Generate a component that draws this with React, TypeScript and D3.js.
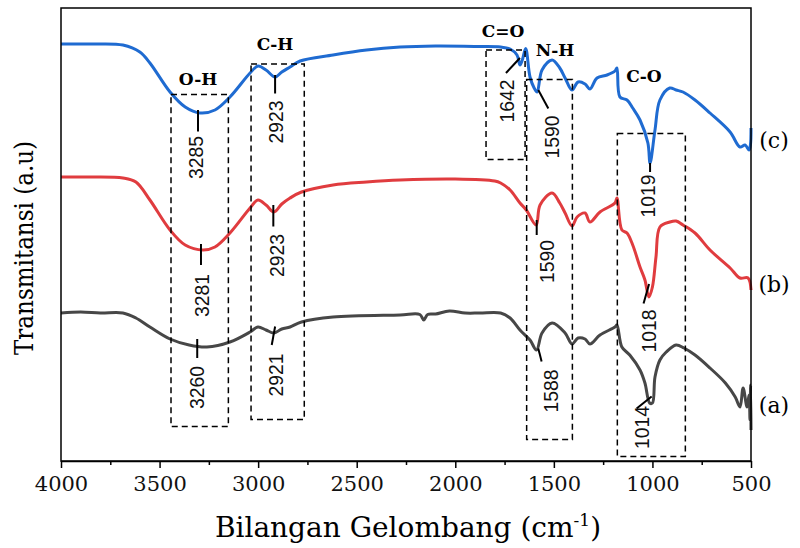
import React, { useRef, useEffect } from 'react'
import * as d3 from 'd3'

// spectrum (c) - blue
const wnC = [4000, 3850, 3686, 3600, 3549, 3447, 3370, 3295, 3219, 3143, 3041, 3001, 2960, 2914, 2880, 2838, 2787, 2620, 2450, 2280, 2100, 1875, 1770, 1722, 1687, 1672, 1660, 1643, 1621, 1600, 1585, 1560, 1509, 1470, 1443, 1408, 1377, 1342, 1317, 1281, 1230, 1190, 1180, 1165, 1129, 1100, 1063, 1023, 1012, 987, 962, 912, 880, 845, 784, 708, 606, 556, 530, 510, 503, 500]
const tC = [83.4, 83.4, 83.2, 81.8, 79.6, 73.8, 70.8, 69.6, 70.2, 72.8, 77.6, 79.0, 78.2, 76.8, 77.8, 78.8, 80.0, 81.2, 82.2, 82.8, 83.0, 82.9, 82.8, 82.4, 81.2, 79.2, 80.2, 82.5, 76.8, 74.6, 73.8, 78.2, 80.2, 78.6, 76.6, 74.2, 75.8, 75.4, 74.4, 76.6, 77.2, 78.0, 78.6, 72.8, 72.2, 70.6, 68.2, 63.6, 59.6, 66.2, 72.2, 74.6, 74.2, 73.8, 72.2, 69.6, 65.8, 62.8, 63.2, 62.2, 63.2, 66.6]

// spectrum (b) - red
const wnB = [4000, 3850, 3686, 3620, 3549, 3447, 3370, 3280, 3219, 3143, 3041, 3001, 2960, 2920, 2880, 2838, 2780, 2620, 2450, 2280, 2000, 1800, 1770, 1722, 1672, 1640, 1590, 1570, 1509, 1470, 1443, 1408, 1382, 1342, 1317, 1266, 1190, 1180, 1155, 1129, 1100, 1063, 1038, 1018, 1000, 982, 962, 912, 880, 845, 784, 708, 606, 556, 515, 500]
const tB = [56.8, 56.8, 56.6, 55.8, 52.2, 46.2, 43.2, 42.2, 42.8, 45.6, 50.6, 52.2, 51.2, 49.8, 51.4, 52.6, 53.8, 55.2, 55.8, 56.2, 56.4, 56.0, 55.6, 54.2, 51.6, 50.2, 47.2, 51.2, 53.6, 51.6, 49.6, 47.0, 48.8, 49.6, 47.8, 49.8, 51.6, 52.6, 46.2, 45.6, 43.2, 38.8, 36.2, 32.8, 34.8, 40.8, 46.8, 47.8, 48.0, 47.2, 45.6, 42.2, 38.6, 36.6, 36.6, 34.2]

// spectrum (a) - gray
const wnA = [4000, 3900, 3800, 3686, 3620, 3549, 3447, 3350, 3260, 3143, 3041, 3001, 2960, 2920, 2880, 2838, 2780, 2620, 2280, 2180, 2160, 2140, 2100, 2030, 1950, 1875, 1770, 1722, 1672, 1621, 1588, 1560, 1509, 1443, 1408, 1377, 1342, 1317, 1266, 1190, 1180, 1155, 1115, 1063, 1038, 1014, 1000, 987, 962, 930, 880, 840, 784, 708, 630, 580, 556, 540, 520, 510, 505, 502, 500]
const tA = [29.6, 29.8, 29.6, 29.6, 28.6, 26.8, 24.4, 23.2, 22.8, 23.8, 25.8, 26.8, 26.2, 25.6, 26.4, 26.8, 27.8, 28.8, 29.2, 29.3, 28.2, 29.3, 29.4, 30.0, 29.6, 29.6, 29.6, 28.6, 26.2, 24.2, 22.2, 25.6, 27.6, 25.6, 23.4, 24.6, 24.4, 23.4, 25.2, 26.8, 27.2, 22.8, 21.2, 18.2, 15.6, 11.6, 11.6, 16.8, 20.2, 21.8, 23.2, 22.6, 21.2, 18.6, 15.6, 12.8, 10.8, 14.6, 10.8, 13.2, 8.2, 15.2, 6.2]

const xTicks = [4000, 3500, 3000, 2500, 2000, 1500, 1000, 500]
const xMinor = [3750, 3250, 2750, 2250, 1750, 1250, 750]

const seriesNames = ['(c)', '(b)', '(a)']
const seriesColors = ['#1f6bd1', '#e03c3f', '#474747']

// dashed boxes: [wn left, wn right, top, bottom]
const boxes = [
  [3442, 3151, 73.3, 6.9],
  [3036, 2766, 79.4, 8.3],
  [1844, 1646, 82.2, 60.3],
  [1638, 1406, 76.3, 4.3],
  [1178, 833, 65.5, 0.9],
]

const groups = ['O-H', 'C-H', 'C=O', 'N-H', 'C-O']
const groupPos = [[3305, 75.2], [2914, 82.2], [1758, 84.8], [1494, 81], [1043, 75.8]]

const peakText = ['3285', '2923', '3281', '2923', '3260', '2921', '1642', '1590', '1590', '1588', '1019', '1018', '1014']
// [x1, y1, x2, y2, textX, textY]
const peakPos = [
  [3305, 70.2, 3305, 65.9, 3315, 60.7],
  [2914, 77.2, 2914, 73.5, 2909, 67.8],
  [3290, 43.4, 3290, 39.2, 3286, 33.1],
  [2923, 51.2, 2923, 46.9, 2906, 41.1],
  [3309, 24.4, 3309, 20.6, 3312, 14.7],
  [2914, 26.9, 2931, 23.2, 2909, 17.2],
  [1743, 77.6, 1672, 80.6, 1739, 72],
  [1579, 74.2, 1528, 70.5, 1511, 64.8],
  [1587, 48.2, 1587, 45.2, 1533, 39.9],
  [1579, 22.5, 1562, 19.9, 1514, 14],
  [1012, 59.6, 1012, 57.8, 1021, 53],
  [1045, 31.5, 1017, 35.4, 1016, 26],
  [1080, 10.5, 1004, 12.9, 1054, 6.7],
]
const seriesLabelY = [62.6, 33.8, 9.6]

const serif = "'DejaVu Serif', 'Liberation Serif', serif"
const narrow = "'Liberation Sans Narrow', 'Liberation Sans', Arial, sans-serif"

const App = () => {
  const svgRef = useRef<SVGSVGElement>(null)
  useEffect(() => {
    const w = 800
    const h = 548
    const svg = d3.select(svgRef.current).attr('width', w).attr('height', h)
    svg.selectAll('*').remove()

    const x = d3.scaleLinear().domain([4000, 500]).range([61, 751])
    const y = d3.scaleLinear().domain([0, 90.6]).range([461, 8])

    const line = d3.line<[number, number]>()
      .x(d => x(d[0]))
      .y(d => y(d[1]))
      .curve(d3.curveCatmullRom.alpha(0.5))

    const sets = [[wnC, tC], [wnB, tB], [wnA, tA]]
    sets.forEach(([wn, t], i) => {
      svg.append('path')
        .attr('d', line(wn.map((v, j) => [v, t[j]] as [number, number])))
        .attr('fill', 'none')
        .attr('stroke', seriesColors[i])
        .attr('stroke-width', 3)
        .attr('stroke-linejoin', 'round')
    })

    // frame
    svg.append('rect')
      .attr('x', 61).attr('y', 8)
      .attr('width', 690).attr('height', 453)
      .attr('fill', 'none').attr('stroke', '#000').attr('stroke-width', 1.5)

    const xAxis = d3.axisBottom(x).tickValues(xTicks).tickSize(7).tickSizeOuter(0).tickPadding(8)
      .tickFormat(d3.format('d'))
    const gx = svg.append('g').attr('transform', `translate(0,${y(0)})`).call(xAxis)
    gx.select('.domain').attr('stroke-width', 1.5)
    gx.selectAll('.tick line').attr('stroke-width', 1.5)
    gx.selectAll('.tick text').attr('font-family', serif).attr('font-size', 21).attr('fill', '#111')
    const gm = svg.append('g').attr('transform', `translate(0,${y(0)})`)
      .call(d3.axisBottom(x).tickValues(xMinor).tickSize(4).tickSizeOuter(0).tickFormat(() => ''))
    gm.select('.domain').remove()
    gm.selectAll('.tick line').attr('stroke-width', 1.5)

    // boxes
    boxes.forEach(b => {
      svg.append('rect')
        .attr('x', x(b[0])).attr('y', y(b[2]))
        .attr('width', x(b[1]) - x(b[0])).attr('height', y(b[3]) - y(b[2]))
        .attr('fill', 'none').attr('stroke', '#000').attr('stroke-width', 1.5)
        .attr('stroke-dasharray', '6,4')
    })

    groups.forEach((g, i) => {
      svg.append('text')
        .attr('x', x(groupPos[i][0])).attr('y', y(groupPos[i][1]))
        .attr('text-anchor', 'middle')
        .attr('font-family', serif).attr('font-weight', 'bold').attr('font-size', 17)
        .text(g)
    })

    peakText.forEach((p, i) => {
      const q = peakPos[i]
      svg.append('line')
        .attr('x1', x(q[0])).attr('y1', y(q[1]))
        .attr('x2', x(q[2])).attr('y2', y(q[3]))
        .attr('stroke', '#000').attr('stroke-width', 2)
      svg.append('text')
        .attr('transform', `translate(${x(q[4])},${y(q[5])}) rotate(-90)`)
        .attr('text-anchor', 'middle')
        .attr('dominant-baseline', 'central')
        .attr('font-family', narrow).attr('font-size', 20)
        .attr('textLength', 43).attr('lengthAdjust', 'spacingAndGlyphs')
        .attr('fill', '#111')
        .text(p)
    })

    seriesNames.forEach((s, i) => {
      svg.append('text')
        .attr('x', x(500) + 23).attr('y', y(seriesLabelY[i]))
        .attr('text-anchor', 'middle')
        .attr('font-family', serif).attr('font-size', 22)
        .text(s)
    })

    // axis titles
    svg.append('text')
      .attr('transform', 'translate(33,248) rotate(-90)')
      .attr('text-anchor', 'middle')
      .attr('font-family', serif).attr('font-size', 26)
      .attr('textLength', 214).attr('lengthAdjust', 'spacingAndGlyphs')
      .text('Transmitansi (a.u)')

    const xl = svg.append('text')
      .attr('x', 408).attr('y', 537)
      .attr('text-anchor', 'middle')
      .attr('font-family', serif).attr('font-size', 28)
    xl.append('tspan').text('Bilangan Gelombang (cm')
    xl.append('tspan').attr('dy', -11).attr('font-size', 17).text('-1')
    xl.append('tspan').attr('dy', 11).text(')')
  }, [])

  return <svg ref={svgRef} style={{ display: 'block', position: 'absolute', left: 0, top: 0 }}></svg>
}

export default App
